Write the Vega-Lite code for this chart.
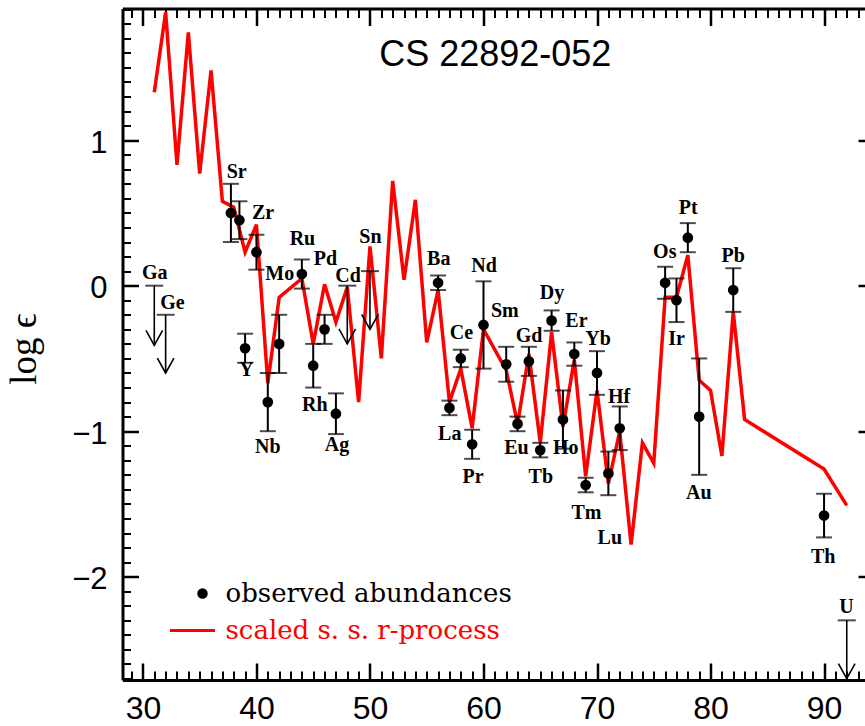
{
  "$schema": "https://vega.github.io/schema/vega-lite/v6.json",
  "width": 751.5,
  "height": 671.5,
  "autosize": {"type": "none"},
  "padding": {"left": 122.5, "top": 8.5, "right": 0, "bottom": 46},
  "background": "white",
  "title": {
    "text": "CS 22892-052",
    "font": "Liberation Sans",
    "fontSize": 36,
    "fontWeight": "normal",
    "color": "black",
    "anchor": "middle",
    "offset": -38,
    "baseline": "alphabetic",
    "dy": 57,
    "dx": -3
  },
  "datasets": {
    "rprocess": [
      {"z": 31, "logeps": 1.33}, {"z": 32, "logeps": 1.88}, {"z": 33, "logeps": 0.83},
      {"z": 34, "logeps": 1.74}, {"z": 35, "logeps": 0.77}, {"z": 36, "logeps": 1.48},
      {"z": 37, "logeps": 0.58}, {"z": 38, "logeps": 0.54}, {"z": 39, "logeps": 0.23},
      {"z": 40, "logeps": 0.42}, {"z": 41, "logeps": -0.67}, {"z": 42, "logeps": -0.08},
      {"z": 44, "logeps": 0.05}, {"z": 45, "logeps": -0.40}, {"z": 46, "logeps": 0.01},
      {"z": 47, "logeps": -0.25}, {"z": 48, "logeps": -0.01}, {"z": 49, "logeps": -0.80},
      {"z": 50, "logeps": 0.27}, {"z": 51, "logeps": -0.50}, {"z": 52, "logeps": 0.72},
      {"z": 53, "logeps": 0.04}, {"z": 54, "logeps": 0.59}, {"z": 55, "logeps": -0.39},
      {"z": 56, "logeps": -0.03}, {"z": 57, "logeps": -0.80}, {"z": 58, "logeps": -0.57},
      {"z": 59, "logeps": -0.98}, {"z": 60, "logeps": -0.30}, {"z": 62, "logeps": -0.58},
      {"z": 63, "logeps": -0.95}, {"z": 64, "logeps": -0.47}, {"z": 65, "logeps": -1.08},
      {"z": 66, "logeps": -0.32}, {"z": 67, "logeps": -0.97}, {"z": 68, "logeps": -0.51},
      {"z": 69, "logeps": -1.31}, {"z": 70, "logeps": -0.72}, {"z": 71, "logeps": -1.36},
      {"z": 72, "logeps": -1.00}, {"z": 73, "logeps": -1.78}, {"z": 74, "logeps": -1.08},
      {"z": 75, "logeps": -1.22}, {"z": 76, "logeps": -0.08}, {"z": 77, "logeps": -0.08},
      {"z": 78, "logeps": 0.21}, {"z": 79, "logeps": -0.65}, {"z": 80, "logeps": -0.72},
      {"z": 81, "logeps": -1.17}, {"z": 82, "logeps": -0.18}, {"z": 83, "logeps": -0.92},
      {"z": 90, "logeps": -1.26}, {"z": 92, "logeps": -1.51}
    ],
    "observed": [
      {"el": "Sr", "z": 37.75, "logeps": 0.50, "err": 0.20},
      {"el": "Sr", "z": 38.5, "logeps": 0.45, "err": 0.13},
      {"el": "Y", "z": 39, "logeps": -0.43, "err": 0.10},
      {"el": "Zr", "z": 40, "logeps": 0.23, "err": 0.12},
      {"el": "Nb", "z": 41, "logeps": -0.80, "err": 0.20},
      {"el": "Mo", "z": 42, "logeps": -0.40, "err": 0.20},
      {"el": "Ru", "z": 44, "logeps": 0.08, "err": 0.10},
      {"el": "Rh", "z": 45, "logeps": -0.55, "err": 0.15},
      {"el": "Pd", "z": 46, "logeps": -0.30, "err": 0.10},
      {"el": "Ag", "z": 47, "logeps": -0.88, "err": 0.14},
      {"el": "Ba", "z": 56, "logeps": 0.02, "err": 0.05},
      {"el": "La", "z": 57, "logeps": -0.84, "err": 0.05},
      {"el": "Ce", "z": 58, "logeps": -0.50, "err": 0.06},
      {"el": "Pr", "z": 59, "logeps": -1.09, "err": 0.10},
      {"el": "Nd", "z": 60, "logeps": -0.27, "err": 0.30},
      {"el": "Sm", "z": 62, "logeps": -0.54, "err": 0.12},
      {"el": "Eu", "z": 63, "logeps": -0.95, "err": 0.05},
      {"el": "Gd", "z": 64, "logeps": -0.52, "err": 0.10},
      {"el": "Tb", "z": 65, "logeps": -1.13, "err": 0.05},
      {"el": "Dy", "z": 66, "logeps": -0.24, "err": 0.07},
      {"el": "Ho", "z": 67, "logeps": -0.92, "err": 0.20},
      {"el": "Er", "z": 68, "logeps": -0.47, "err": 0.08},
      {"el": "Tm", "z": 69, "logeps": -1.37, "err": 0.05},
      {"el": "Yb", "z": 70, "logeps": -0.60, "err": 0.15},
      {"el": "Lu", "z": 71, "logeps": -1.29, "err": 0.15},
      {"el": "Hf", "z": 72, "logeps": -0.98, "err": 0.15},
      {"el": "Os", "z": 76, "logeps": 0.02, "err": 0.11},
      {"el": "Ir", "z": 77, "logeps": -0.10, "err": 0.15},
      {"el": "Pt", "z": 78, "logeps": 0.33, "err": 0.10},
      {"el": "Au", "z": 79, "logeps": -0.90, "err": 0.40},
      {"el": "Pb", "z": 82, "logeps": -0.03, "err": 0.15},
      {"el": "Th", "z": 90, "logeps": -1.58, "err": 0.15}
    ],
    "limits": [
      {"el": "Ga", "z": 31, "logeps": 0.00, "tip": -0.41},
      {"el": "Ge", "z": 32, "logeps": -0.20, "tip": -0.60},
      {"el": "Cd", "z": 48, "logeps": 0.00, "tip": -0.40},
      {"el": "Sn", "z": 50, "logeps": 0.10, "tip": -0.30},
      {"el": "U", "z": 92, "logeps": -2.30, "tip": -2.70}
    ],
    "labels": [
      {"el": "Ga", "z": 31.04, "logeps": 0.085},
      {"el": "Ge", "z": 32.6, "logeps": -0.117},
      {"el": "Sr", "z": 38.26, "logeps": 0.78},
      {"el": "Zr", "z": 40.58, "logeps": 0.50},
      {"el": "Y", "z": 39.12, "logeps": -0.58},
      {"el": "Mo", "z": 42.05, "logeps": 0.08},
      {"el": "Nb", "z": 41.0, "logeps": -1.11},
      {"el": "Ru", "z": 44.05, "logeps": 0.32},
      {"el": "Pd", "z": 46.08, "logeps": 0.18},
      {"el": "Rh", "z": 45.14, "logeps": -0.82},
      {"el": "Ag", "z": 47.1, "logeps": -1.095},
      {"el": "Cd", "z": 48.07, "logeps": 0.067},
      {"el": "Sn", "z": 50.04, "logeps": 0.333},
      {"el": "Ba", "z": 56.06, "logeps": 0.18},
      {"el": "La", "z": 57.03, "logeps": -1.02},
      {"el": "Ce", "z": 58.06, "logeps": -0.323},
      {"el": "Pr", "z": 59.08, "logeps": -1.317},
      {"el": "Nd", "z": 60.05, "logeps": 0.135},
      {"el": "Sm", "z": 61.88, "logeps": -0.172},
      {"el": "Eu", "z": 62.9, "logeps": -1.117},
      {"el": "Gd", "z": 64.02, "logeps": -0.346},
      {"el": "Tb", "z": 65.05, "logeps": -1.317},
      {"el": "Dy", "z": 66.04, "logeps": -0.052},
      {"el": "Ho", "z": 67.25, "logeps": -1.117},
      {"el": "Er", "z": 68.19, "logeps": -0.24},
      {"el": "Tm", "z": 69.07, "logeps": -1.564},
      {"el": "Yb", "z": 70.1, "logeps": -0.368},
      {"el": "Lu", "z": 71.13, "logeps": -1.736},
      {"el": "Hf", "z": 71.95, "logeps": -0.763},
      {"el": "Os", "z": 75.97, "logeps": 0.234},
      {"el": "Ir", "z": 77.0, "logeps": -0.368},
      {"el": "Pt", "z": 78.03, "logeps": 0.532},
      {"el": "Au", "z": 78.97, "logeps": -1.427},
      {"el": "Pb", "z": 81.99, "logeps": 0.204},
      {"el": "Th", "z": 89.92, "logeps": -1.867},
      {"el": "U", "z": 91.98, "logeps": -2.21}
    ]
  },
  "config": {
    "view": {"stroke": null},
    "axis": {
      "grid": false,
      "domainColor": "black",
      "tickColor": "black",
      "labelColor": "black",
      "titleColor": "black",
      "labelFlush": false,
      "labelOverlap": false
    },
    "legend": {"padding": 0, "labelLimit": 500}
  },
  "resolve": {"axis": {"x": "independent", "y": "independent"}},
  "layer": [
    {
      "data": {"name": "rprocess"},
      "mark": {"type": "line", "strokeWidth": 3.5, "clip": true},
      "encoding": {
        "x": {
          "field": "z", "type": "quantitative",
          "scale": {"domain": [28.2, 94.4], "nice": false, "zero": false},
          "axis": {
            "orient": "bottom", "title": null,
            "values": [30, 40, 50, 60, 70, 80, 90],
            "ticks": false, "domain": true, "domainWidth": 3,
            "labelFont": "Liberation Sans", "labelFontSize": 32,
            "labelPadding": 13
          }
        },
        "y": {
          "field": "logeps", "type": "quantitative",
          "scale": {"domain": [-2.71, 1.905], "nice": false, "zero": false},
          "axis": {
            "orient": "left",
            "values": [-2, -1, 0, 1],
            "ticks": false, "domain": true, "domainWidth": 3,
            "labelFont": "Liberation Sans", "labelFontSize": 31,
            "labelPadding": 15.5, "labelOffset": 3,
            "title": "log ϵ",
            "titleFont": "Liberation Serif, DejaVu Serif",
            "titleFontSize": 37, "titleFontWeight": "normal",
            "titleAngle": -90, "titleAlign": "center", "titleBaseline": "middle",
            "titleX": -98, "titleY": 340
          }
        },
        "stroke": {
          "datum": "scaled s. s. r-process", "type": "nominal",
          "scale": {"domain": ["scaled s. s. r-process"], "range": ["#ff0000"]},
          "legend": {
            "orient": "none", "legendX": 46, "legendY": 598,
            "title": null,
            "labelFont": "DejaVu Serif", "labelFontSize": 26, "labelColor": "#ff0000",
            "labelOffset": 9,
            "symbolType": "stroke", "symbolSize": 2025, "symbolStrokeWidth": 3,
            "symbolStrokeColor": "#ff0000"
          }
        }
      }
    },
    {
      "data": {"name": "observed"},
      "mark": {
        "type": "errorbar",
        "ticks": {"size": 16, "thickness": 2, "color": "black"},
        "rule": {"strokeWidth": 2, "color": "black"}
      },
      "encoding": {
        "x": {
          "field": "z", "type": "quantitative",
          "axis": {
            "orient": "bottom", "title": null, "labels": false, "domain": false,
            "values": [30, 40, 50, 60, 70, 80, 90],
            "tickSize": -17, "tickWidth": 2.5
          }
        },
        "y": {
          "field": "logeps", "type": "quantitative",
          "axis": {
            "orient": "left", "title": null, "labels": false, "domain": false,
            "values": [-2, -1, 0, 1],
            "tickSize": -16, "tickWidth": 2.5
          }
        },
        "yError": {"field": "err"}
      }
    },
    {
      "data": {"name": "observed"},
      "mark": {"type": "point", "filled": true, "size": 115, "opacity": 1},
      "encoding": {
        "x": {
          "field": "z", "type": "quantitative",
          "axis": {
            "orient": "bottom", "title": null, "labels": false, "domain": false,
            "values": [29, 30, 31, 32, 33, 34, 35, 36, 37, 38, 39, 40, 41, 42, 43, 44, 45, 46, 47, 48, 49, 50, 51, 52, 53, 54, 55, 56, 57, 58, 59, 60, 61, 62, 63, 64, 65, 66, 67, 68, 69, 70, 71, 72, 73, 74, 75, 76, 77, 78, 79, 80, 81, 82, 83, 84, 85, 86, 87, 88, 89, 90, 91, 92, 93, 94],
            "tickSize": -9, "tickWidth": 2
          }
        },
        "y": {
          "field": "logeps", "type": "quantitative",
          "axis": {
            "orient": "left", "title": null, "labels": false, "domain": false,
            "values": [-2.7, -2.6, -2.5, -2.4, -2.3, -2.2, -2.1, -2.0, -1.9, -1.8, -1.7, -1.6, -1.5, -1.4, -1.3, -1.2, -1.1, -1.0, -0.9, -0.8, -0.7, -0.6, -0.5, -0.4, -0.3, -0.2, -0.1, 0, 0.1, 0.2, 0.3, 0.4, 0.5, 0.6, 0.7, 0.8, 0.9, 1.0, 1.1, 1.2, 1.3, 1.4, 1.5, 1.6, 1.7, 1.8, 1.9],
            "tickSize": -8, "tickWidth": 2
          }
        },
        "fill": {
          "datum": "observed abundances", "type": "nominal",
          "scale": {"domain": ["observed abundances"], "range": ["black"]},
          "legend": {
            "orient": "none", "legendX": 67, "legendY": 572,
            "title": null,
            "labelFont": "DejaVu Serif", "labelFontSize": 26, "labelColor": "black",
            "labelOffset": 10,
            "symbolType": "circle", "symbolSize": 110, "symbolStrokeWidth": 0,
            "symbolFillColor": "black"
          }
        }
      }
    },
    {
      "data": {"name": "labels"},
      "mark": {
        "type": "text", "font": "Liberation Serif", "fontSize": 20,
        "fontWeight": "bold", "align": "center", "baseline": "middle", "color": "black"
      },
      "encoding": {
        "x": {
          "field": "z", "type": "quantitative",
          "axis": {
            "orient": "top", "title": null, "labels": false, "domain": true, "domainWidth": 3,
            "values": [30, 40, 50, 60, 70, 80, 90],
            "tickSize": -17, "tickWidth": 2.5
          }
        },
        "y": {
          "field": "logeps", "type": "quantitative",
          "axis": {
            "orient": "right", "title": null, "labels": false, "domain": true, "domainWidth": 3,
            "values": [-2, -1, 0, 1],
            "tickSize": -16, "tickWidth": 2.5
          }
        },
        "text": {"field": "el"}
      }
    },
    {
      "data": {"name": "limits"},
      "mark": {"type": "tick", "orient": "horizontal", "size": 18, "thickness": 2, "color": "black"},
      "encoding": {
        "x": {
          "field": "z", "type": "quantitative",
          "axis": {
            "orient": "top", "title": null, "labels": false, "domain": false,
            "values": [29, 30, 31, 32, 33, 34, 35, 36, 37, 38, 39, 40, 41, 42, 43, 44, 45, 46, 47, 48, 49, 50, 51, 52, 53, 54, 55, 56, 57, 58, 59, 60, 61, 62, 63, 64, 65, 66, 67, 68, 69, 70, 71, 72, 73, 74, 75, 76, 77, 78, 79, 80, 81, 82, 83, 84, 85, 86, 87, 88, 89, 90, 91, 92, 93, 94],
            "tickSize": -9, "tickWidth": 2
          }
        },
        "y": {
          "field": "logeps", "type": "quantitative",
          "axis": {
            "orient": "right", "title": null, "labels": false, "domain": false,
            "values": [-2.7, -2.6, -2.5, -2.4, -2.3, -2.2, -2.1, -2.0, -1.9, -1.8, -1.7, -1.6, -1.5, -1.4, -1.3, -1.2, -1.1, -1.0, -0.9, -0.8, -0.7, -0.6, -0.5, -0.4, -0.3, -0.2, -0.1, 0, 0.1, 0.2, 0.3, 0.4, 0.5, 0.6, 0.7, 0.8, 0.9, 1.0, 1.1, 1.2, 1.3, 1.4, 1.5, 1.6, 1.7, 1.8, 1.9],
            "tickSize": -8, "tickWidth": 2
          }
        }
      }
    },
    {
      "data": {"name": "limits"},
      "mark": {"type": "rule", "strokeWidth": 1.6, "color": "black"},
      "encoding": {
        "x": {"field": "z", "type": "quantitative", "axis": null},
        "y": {"field": "logeps", "type": "quantitative", "axis": null},
        "y2": {"field": "tip"}
      }
    },
    {
      "data": {"name": "limits"},
      "mark": {
        "type": "point", "shape": "M-1,-1.8L0,0L1,-1.8", "filled": false,
        "size": 276, "strokeWidth": 1.6, "color": "black", "opacity": 1
      },
      "encoding": {
        "x": {"field": "z", "type": "quantitative", "axis": null},
        "y": {"field": "tip", "type": "quantitative", "axis": null}
      }
    }
  ]
}
